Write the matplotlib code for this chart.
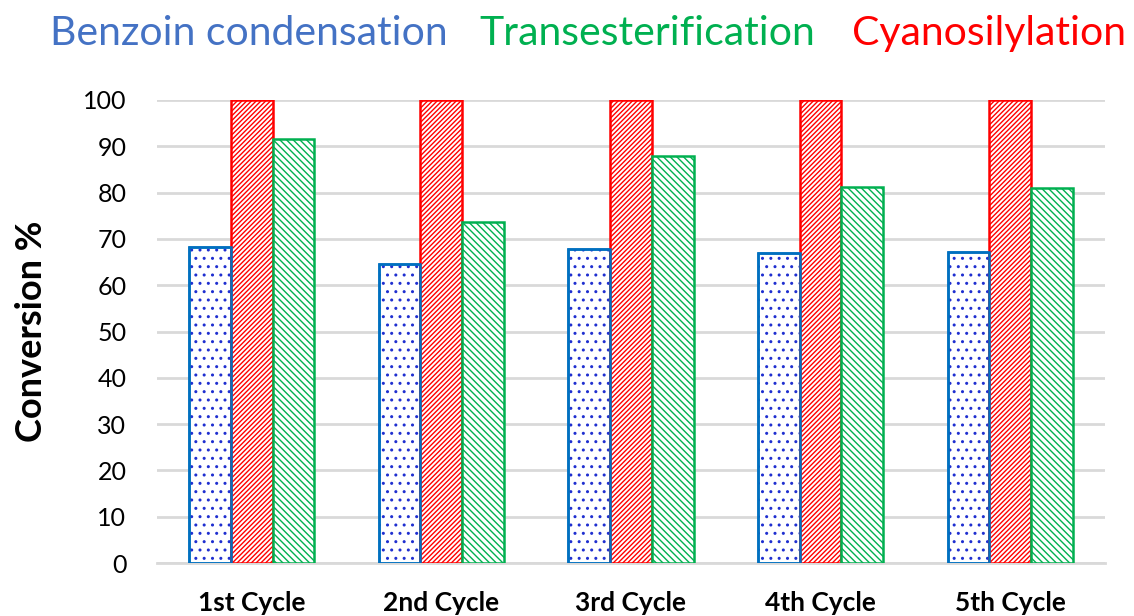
import matplotlib
matplotlib.use("Agg")
import matplotlib.pyplot as plt
import numpy as np

cycles = ["1st Cycle", "2nd Cycle", "3rd Cycle", "4th Cycle", "5th Cycle"]
benzoin = [68.2, 64.6, 67.8, 67.0, 67.2]
cyano = [100, 100, 100, 100, 100]
transest = [91.6, 73.6, 87.9, 81.2, 80.9]
yticks = list(range(0, 101, 10))

plt.rcParams['font.family'] = ['Lato', 'DejaVu Sans']
plt.rcParams['hatch.linewidth'] = 1.0

fig = plt.figure(figsize=(11.34, 6.16), dpi=100)
ax = fig.add_axes([0.1384, 0.086, 0.836, 0.7517])

x = np.arange(len(cycles))
w = 0.22
ax.bar(x - w, benzoin, w, facecolor='white', edgecolor='#0070C0', linewidth=1.8, zorder=3)
ax.bar(x - w, benzoin, w, facecolor='none', edgecolor='#1F2FD0', hatch='..', linewidth=0, zorder=3)
ax.bar(x - w, benzoin, w, facecolor='none', edgecolor='#0070C0', linewidth=1.8, zorder=4)
ax.bar(x, cyano, w, facecolor='white', edgecolor='#FF0000', hatch='///////', linewidth=1.8, zorder=3)
ax.bar(x + w, transest, w, facecolor='white', edgecolor='#00B050', hatch='\\\\\\\\\\', linewidth=1.8, zorder=3)

ax.set_xlim(-0.5, len(cycles) - 0.5)
ax.set_ylim(0, 100)
ax.set_yticks(yticks)
ax.set_yticklabels([str(v) for v in yticks], fontsize=18)
ax.set_xticks(x)
ax.set_xticklabels(cycles, fontsize=19, fontweight='bold')
ax.tick_params(axis='both', length=0)
ax.tick_params(axis='y', pad=22)
ax.tick_params(axis='x', pad=20)
ax.grid(axis='y', color='#D9D9D9', linewidth=2, zorder=0)
for s in ['top', 'right', 'left']:
    ax.spines[s].set_visible(False)
ax.spines['bottom'].set_color('#D9D9D9')
ax.spines['bottom'].set_linewidth(2)
ax.set_ylabel("Conversion %", fontsize=26, fontweight='bold')
ax.yaxis.set_label_coords(-0.115, 0.5)

fig.text(0.044, 0.945, "Benzoin condensation", color='#4472C4', fontsize=29.5, ha='left', va='center')
fig.text(0.423, 0.945, "Transesterification", color='#00B050', fontsize=29.5, ha='left', va='center')
fig.text(0.751, 0.945, "Cyanosilylation", color='#FF0000', fontsize=29.5, ha='left', va='center')

fig.savefig("out.png", dpi=100)
